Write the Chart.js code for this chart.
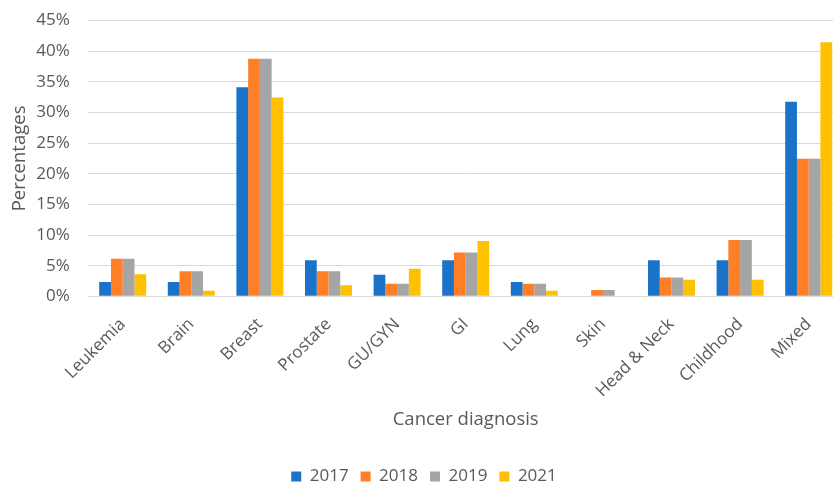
<!DOCTYPE html>
<html>
<head>
<meta charset="utf-8">
<script src="https://cdn.jsdelivr.net/npm/chart.js@4/dist/chart.umd.min.js"></script>
<style>
    html, body { margin: 0; padding: 0; background: #ffffff; overflow: hidden; }
    #wrap { position: relative; width: 851px; height: 485px; }
</style>
</head>
<body>
<div id="wrap"><canvas id="diagnosisChart"></canvas></div>
<script>
// Share of patients by cancer diagnosis, per year (%)
const diagnoses = ["Leukemia", "Brain", "Breast", "Prostate", "GU/GYN", "GI", "Lung", "Skin", "Head & Neck", "Childhood", "Mixed"];
const years = ["2017", "2018", "2019", "2021"];

const share2017 = [2.35, 2.35, 34.12, 5.88, 3.53, 5.88, 2.35, 0, 5.88, 5.88, 31.76];
const share2018 = [6.12, 4.08, 38.78, 4.08, 2.04, 7.14, 2.04, 1.02, 3.06, 9.18, 22.45];
const share2019 = [6.12, 4.08, 38.78, 4.08, 2.04, 7.14, 2.04, 1.02, 3.06, 9.18, 22.45];
const share2021 = [3.60, 0.90, 32.43, 1.80, 4.50, 9.01, 0.90, 0, 2.70, 2.70, 41.44];

const yTicks = [0, 5, 10, 15, 20, 25, 30, 35, 40, 45];

const colors = ["#1A73C8", "#FF7F27", "#A5A5A5", "#FFC000"];
const textColor = "#595959";
const fontFamily = "'Open Sans', 'Liberation Sans', sans-serif";

document.addEventListener("DOMContentLoaded", function () {
    const ctx = document.getElementById("diagnosisChart").getContext("2d");
    const seriesData = [share2017, share2018, share2019, share2021];

    const datasets = years.map((year, i) => {
        return {
            label: year,
            data: seriesData[i],
            backgroundColor: colors[i],
            borderWidth: 0,
            barPercentage: 1.0,
            categoryPercentage: 0.685
        };
    });

    new Chart(ctx, {
        type: "bar",
        data: {
            labels: diagnoses,
            datasets: datasets
        },
        options: {
            responsive: true,
            maintainAspectRatio: false,
            animation: false,
            layout: {
                padding: { left: 5, right: 8, top: 20.5, bottom: -10 }
            },
            scales: {
                x: {
                    grid: { display: false, drawTicks: false },
                    border: { display: false },
                    ticks: {
                        color: textColor,
                        font: { family: fontFamily, size: 17 },
                        minRotation: 45,
                        maxRotation: 45,
                        padding: 18,
                        autoSkip: false
                    },
                    // rotated labels may hang past the plot edge; tick padding only counted once
                    afterFit: scale => {
                        scale.paddingLeft = 0;
                        scale.paddingRight = 0;
                        scale.height -= scale.options.ticks.padding;
                    },
                    title: {
                        display: true,
                        text: "Cancer diagnosis",
                        color: textColor,
                        font: { family: fontFamily, size: 18.5 },
                        padding: { top: 7, bottom: 25.5 }
                    }
                },
                y: {
                    min: 0,
                    max: 45,
                    afterBuildTicks: axis => {
                        axis.ticks = yTicks.map(v => ({ value: v }));
                    },
                    // keep the label gap on one side only and let the top label overhang
                    afterFit: scale => {
                        scale.width -= scale.options.ticks.padding;
                        scale.paddingTop = 0;
                        scale.paddingBottom = 0;
                    },
                    grid: { color: "#d9d9d9", lineWidth: 1, drawTicks: false },
                    border: { display: false },
                    ticks: {
                        color: textColor,
                        font: { family: fontFamily, size: 17 },
                        padding: 18.7,
                        callback: value => value + "%"
                    },
                    title: {
                        display: true,
                        text: "Percentages",
                        color: textColor,
                        font: { family: fontFamily, size: 18.5 },
                        padding: { top: 4, bottom: 5 }
                    }
                }
            },
            plugins: {
                legend: {
                    display: true,
                    position: "bottom",
                    labels: {
                        color: textColor,
                        font: { family: fontFamily, size: 17 },
                        boxWidth: 10,
                        boxHeight: 10,
                        padding: 12
                    }
                },
                tooltip: { enabled: false }
            }
        }
    });
});
</script>
</body>
</html>
